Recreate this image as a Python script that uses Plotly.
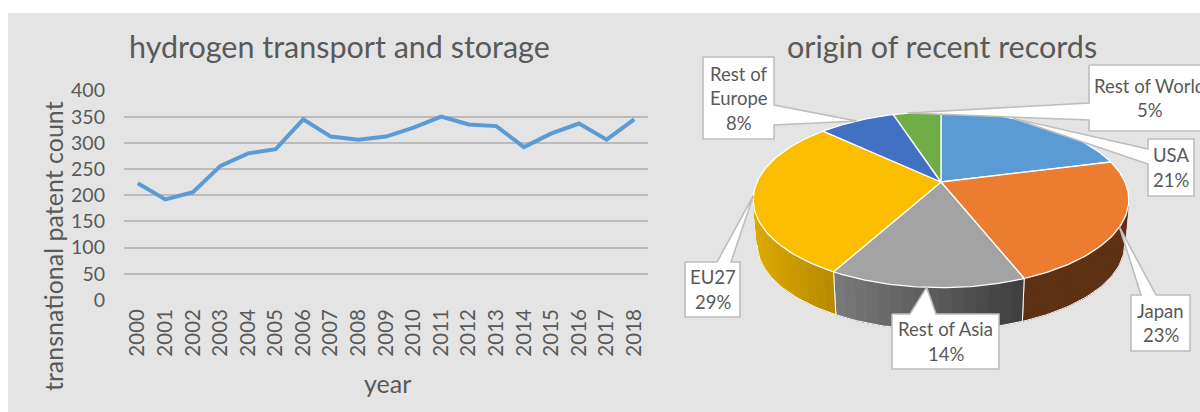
import math
import plotly.graph_objects as go

# ---- data ----
years = [str(y) for y in range(2000, 2019)]
patent_counts = [223, 192, 206, 256, 280, 288, 345, 312, 306, 312, 329, 350, 335, 332, 292, 318, 337, 306, 345]
y_ticks = [0, 50, 100, 150, 200, 250, 300, 350, 400]

regions = ["USA", "Japan", "Rest of Asia", "EU27", "Rest of Europe", "Rest of World"]
region_lines = [["USA"], ["Japan"], ["Rest of Asia"], ["EU27"], ["Rest of", "Europe"], ["Rest of World"]]
shares = [21, 23, 14, 29, 8, 5]

# ---- styling ----
W, H = 1200, 412
FONT = "Lato"
TEXT = "#595959"
GRID = "#bbbbbb"
BG = "#e4e4e4"
top_colors = ["#5b9bd5", "#eb7c30", "#a3a3a3", "#fbbd00", "#4270c2", "#70ad47"]
side_colors = {1: ("#5f3114", "#5f3114"), 2: ("#7c7c7c", "#404040"), 3: ("#dcaa00", "#b88c00")}
BORDER = "#bdbdbd"

# perspective model of the pie on the pixel axes
CX, CY, A, B, K = 941.0, 182.0, 184.0, 84.5, 0.2
DEPTH, SHRINK = 45.0, 0.978

def rim(theta_deg, lower=False):
    t = math.radians(theta_deg)
    u, v = math.sin(t), math.cos(t)
    w = 1 + K * v
    s = SHRINK if lower else 1.0
    return CX + s * A * u / w, CY + (DEPTH if lower else 0) - s * B * v / w

def angle(frac):
    return frac * 360.0 / sum(shares)

def arc(a0, a1, n, lower=False):
    pts = [rim(a0 + (a1 - a0) * i / n, lower) for i in range(n + 1)]
    return [p[0] for p in pts], [p[1] for p in pts]

def lerp_hex(c0, c1, f):
    f = max(0, min(1, f))
    a = [int(c0[i:i + 2], 16) for i in (1, 3, 5)]
    b = [int(c1[i:i + 2], 16) for i in (1, 3, 5)]
    return "#%02x%02x%02x" % tuple(round(x + (y - x) * f) for x, y in zip(a, b))

fig = go.Figure()

# line chart
fig.add_trace(go.Scatter(
    x=years, y=patent_counts, mode="lines", xaxis="x", yaxis="y",
    line=dict(color="#5b9bd5", width=4), hoverinfo="x+y", showlegend=False))

# pie geometry
cum = [0]
for s in shares:
    cum.append(cum[-1] + s)
SIL_L, SIL_R = 102.0, 258.0

def poly(xs, ys, fill, line=None, width=0.0):
    fig.add_trace(go.Scatter(
        x=xs, y=ys, xaxis="x2", yaxis="y2", mode="lines", fill="toself", fillcolor=fill,
        line=dict(color=line or fill, width=width), hoverinfo="skip", showlegend=False))

# side walls
for i, (c0, c1) in side_colors.items():
    a0, a1 = max(angle(cum[i]), SIL_L), min(angle(cum[i + 1]), SIL_R)
    n = 16
    x_at = [rim(a0)[0], rim(a1)[0]]
    # base wall under the strips, so that no seam shows the background
    xt, yt = arc(a0, a1, 40)
    xb, yb = arc(a1, a0, 40, lower=True)
    poly(xt + xb + [xt[0]], yt + yb + [yt[0]], lerp_hex(c0, c1, 0.5), lerp_hex(c0, c1, 0.5), 0.5)
    for j in range(n):
        # each strip runs to the far end of the wall, the next one paints over it
        b0 = a0 + (a1 - a0) * j / n
        xt, yt = arc(b0, a1, 24)
        xb, yb = arc(a1, b0, 24, lower=True)
        xm = rim(b0)[0]
        f = (xm - min(x_at)) / (max(x_at) - min(x_at))
        col = lerp_hex(c0, c1, f)
        poly(xt + xb + [xt[0]], yt + yb + [yt[0]], col, col, 0.0)
    # white seam + bottom rim
    for edge in (a0, a1):
        p, q = rim(edge), rim(edge, True)
        if 105 < edge < 255:
            fig.add_trace(go.Scatter(x=[p[0], q[0]], y=[p[1], q[1]], xaxis="x2", yaxis="y2", mode="lines",
                                     line=dict(color="#ffffff", width=1), hoverinfo="skip", showlegend=False))
    xb, yb = arc(a0, a1, 40, lower=True)
    fig.add_trace(go.Scatter(x=xb, y=yb, xaxis="x2", yaxis="y2", mode="lines",
                             line=dict(color="#ffffff", width=1), hoverinfo="skip", showlegend=False))

# top faces
for i, c in enumerate(top_colors):
    a0, a1 = angle(cum[i]), angle(cum[i + 1])
    xs, ys = arc(a0, a1, 60)
    poly([CX] + xs + [CX], [CY] + ys + [CY], c, "#ffffff", 1.3)

# callouts: box (x0, y0, x1, y1), side of the opening, opening start/end, leader position on the rim (share units)
boxes = [
    (1148, 139, 1194, 196, "left", 149, 164, 7.6),
    (1131, 295, 1190, 351, "top", 1141, 1156, 33.0),
    (892, 314, 999, 369, "top", 910, 936, 51.0),
    (685, 262, 740, 317, "top", 717, 731, 72.5),
    (703, 57, 774, 139, "right", 105, 125, 91.0),
    (1089, 65, 1210, 131, "left", 103, 120, 96.5),
]
LINE_H = 24.5
for i in [5, 0, 1, 2, 3, 4]:
    x0, y0, x1, y1, side, n0, n1, lead = boxes[i]
    tx, ty = rim(angle(lead))
    if side == "left":
        xs = [x0, x1, x1, x0, x0, tx, x0, x0]
        ys = [y0, y0, y1, y1, n1, ty, n0, y0]
    elif side == "top":
        xs = [x0, n0, tx, n1, x1, x1, x0, x0]
        ys = [y0, y0, ty, y0, y0, y1, y1, y0]
    else:
        xs = [x0, x1, x1, tx, x1, x1, x0, x0]
        ys = [y0, y0, n0, ty, n1, y1, y1, y0]
    poly(xs, ys, "#ffffff", BORDER, 1.6)

annotations = []
def label(x, y, text, size, color=TEXT, xref="x2", yref="y2", angle_=0):
    annotations.append(dict(x=x, y=y, xref=xref, yref=yref, text=text, showarrow=False,
                            xanchor="center", yanchor="middle", textangle=angle_,
                            font=dict(family=FONT, size=size, color=color)))

for i, lines in enumerate(region_lines):
    x0, y0, x1, y1, *_ = boxes[i]
    rows = lines + [f"{shares[i]}%"]
    cx, cy = (x0 + x1) / 2, (y0 + y1) / 2
    for j, t in enumerate(rows):
        label(cx, cy + (j - (len(rows) - 1) / 2) * LINE_H, t, 18.5)

label(339, 46, "hydrogen transport and storage", 30.5)
label(942, 46, "origin of recent records", 30.5)
label(53, 246, "transnational patent count", 25, angle_=-90)
label(387, 383, "year", 25)

def px(xv):
    return xv / W

def py(yv):
    return 1 - yv / H

fig.update_layout(
    width=W, height=H, margin=dict(l=0, r=0, t=0, b=0, autoexpand=False),
    paper_bgcolor="#ffffff", plot_bgcolor="rgba(0,0,0,0)", showlegend=False,
    font=dict(family=FONT, color=TEXT),
    xaxis=dict(domain=[px(124), px(648)], type="category", range=[-0.5, 18.5], tickangle=-90,
               tickfont=dict(size=20.5, family=FONT, color=TEXT), showgrid=False, zeroline=False,
               showline=False, ticks="", anchor="y", ticklabelstandoff=4),
    yaxis=dict(domain=[py(300), py(90.5)], range=[0, 400], tickvals=y_ticks,
               tickfont=dict(size=19.5, family=FONT, color=TEXT), gridcolor=GRID, gridwidth=1.5,
               zeroline=False, showline=False, ticks="", anchor="x", ticklabelstandoff=18),
    xaxis2=dict(domain=[0, 1], range=[0, W], visible=False, anchor="y2", fixedrange=True),
    yaxis2=dict(domain=[0, 1], range=[H, 0], visible=False, anchor="x2", fixedrange=True),
    shapes=[dict(type="rect", xref="paper", yref="paper", layer="below",
                 x0=px(8), x1=1, y0=0, y1=py(13), fillcolor=BG, line=dict(width=0))],
    annotations=annotations,
)

fig.write_html("out.html", config=dict(displayModeBar=False),
               post_script="document.body.style.margin='0';window.dispatchEvent(new Event('resize'));")
